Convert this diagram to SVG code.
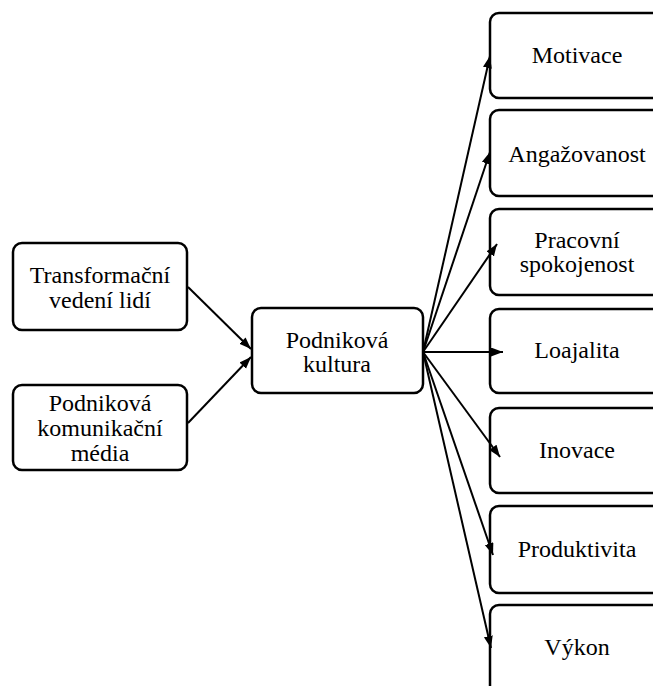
<svg xmlns="http://www.w3.org/2000/svg" width="653" height="686" viewBox="0 0 653 686">
<style>
.box{fill:#fff;stroke:#000;stroke-width:2.5}
.t{font-family:'Liberation Serif','Times New Roman',serif;font-size:24px;fill:#000;text-anchor:middle}
.c{stroke:#000;stroke-width:2;fill:none;marker-end:url(#ah)}
</style>
<defs>
<marker id="ah" markerUnits="userSpaceOnUse" markerWidth="13" markerHeight="10" refX="12" refY="4.5" orient="auto">
<path d="M0,0 L12,4.5 L0,9 z" fill="#000"/>
</marker>
</defs>
<rect width="653" height="686" fill="#fff"/>
<g id="n1"><rect class="box" x="13" y="243" width="174" height="87" rx="9"/><text class="t" x="100" y="283">Transformační</text><text class="t" x="100" y="308">vedení lidí</text></g>
<g id="n2"><rect class="box" x="13" y="385" width="174" height="85" rx="9"/><text class="t" x="100" y="411">Podniková</text><text class="t" x="100" y="436">komunikační</text><text class="t" x="100" y="461">média</text></g>
<g id="n3"><rect class="box" x="252" y="308" width="171" height="85" rx="9"/><text class="t" x="337" y="348">Podniková</text><text class="t" x="337" y="372">kultura</text></g>
<g id="r1"><rect class="box" x="490" y="13" width="180" height="85" rx="9"/><text class="t" x="577" y="63">Motivace</text></g>
<g id="r2"><rect class="box" x="490" y="110" width="180" height="86" rx="9"/><text class="t" x="577" y="162">Angažovanost</text></g>
<g id="r3"><rect class="box" x="490" y="209" width="180" height="86" rx="9"/><text class="t" x="577" y="248">Pracovní</text><text class="t" x="577" y="272">spokojenost</text></g>
<g id="r4"><rect class="box" x="490" y="309" width="180" height="84" rx="9"/><text class="t" x="577" y="358">Loajalita</text></g>
<g id="r5"><rect class="box" x="490" y="408" width="180" height="85" rx="9"/><text class="t" x="577" y="458">Inovace</text></g>
<g id="r6"><rect class="box" x="490" y="506" width="180" height="87" rx="9"/><text class="t" x="577" y="557">Produktivita</text></g>
<g id="r7"><rect class="box" x="490" y="605" width="180" height="90" rx="9"/><text class="t" x="577" y="655">Výkon</text></g>
<g id="connectors">
<line class="c" x1="188" y1="287" x2="251" y2="349"/>
<line class="c" x1="188" y1="423" x2="251" y2="357"/>
<line class="c" x1="423" y1="352" x2="490" y2="56"/>
<line class="c" x1="423" y1="352" x2="490" y2="152"/>
<line class="c" x1="423" y1="352" x2="497" y2="244"/>
<line class="c" x1="423" y1="352" x2="503" y2="352"/>
<line class="c" x1="423" y1="352" x2="500" y2="457"/>
<line class="c" x1="423" y1="352" x2="493" y2="555"/>
<line class="c" x1="423" y1="352" x2="491" y2="648"/>
</g>
</svg>
